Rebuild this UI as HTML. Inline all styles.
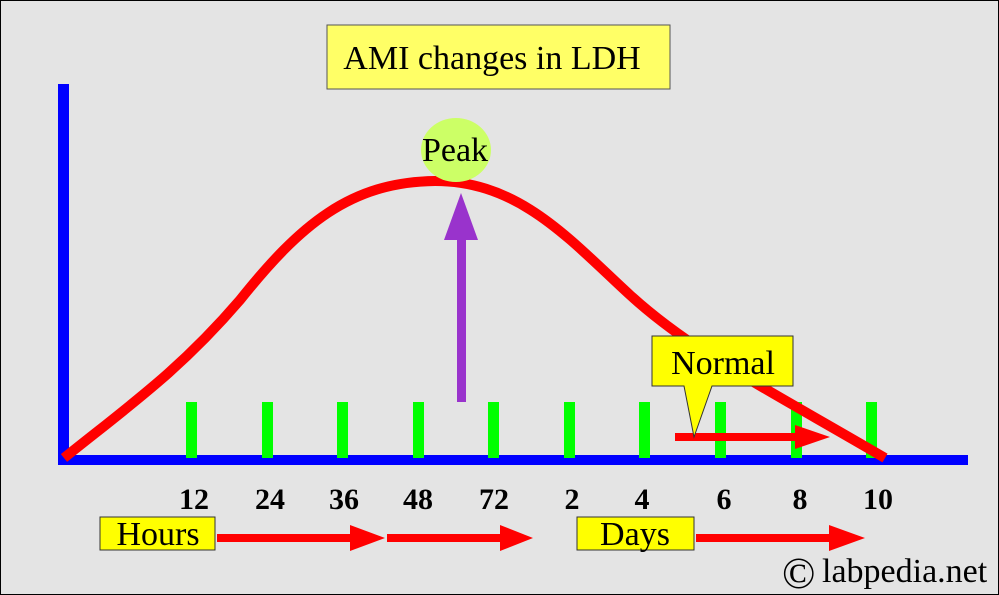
<!DOCTYPE html>
<html><head><style>
body{margin:0;}
svg{display:block;font-family:"Liberation Serif",serif;}
</style></head><body>
<svg width="999" height="595" viewBox="0 0 999 595">
<rect x="0.5" y="0.5" width="998" height="594" fill="#e4e4e4" stroke="#000"/>
<rect x="327" y="25" width="343" height="64" fill="#ffff66" stroke="#555"/>
<text x="492" y="69" font-size="34" text-anchor="middle">AMI changes in LDH</text>
<rect x="58" y="84" width="11" height="380" fill="#0000ff"/>
<rect x="58" y="455" width="910" height="10" fill="#0000ff"/>
<g fill="#00ff00">
<rect x="186" y="402" width="11" height="56"/><rect x="262" y="402" width="11" height="56"/>
<rect x="337" y="402" width="11" height="56"/><rect x="413" y="402" width="11" height="56"/>
<rect x="488" y="402" width="11" height="56"/><rect x="564" y="402" width="11" height="56"/>
<rect x="639" y="402" width="11" height="56"/><rect x="715" y="402" width="11" height="56"/>
<rect x="791" y="402" width="11" height="56"/><rect x="866" y="402" width="11" height="56"/>
</g>
<path d="M64,458 C130,405 180,370 240,300 C300,225 350,182 435,181 C520,181 570,240 630,295 C690,350 760,385 885,458" fill="none" stroke="#ff0000" stroke-width="10"/>
<ellipse cx="456" cy="150" rx="35" ry="32" fill="#ccff66"/>
<text x="455" y="161" font-size="34" text-anchor="middle">Peak</text>
<rect x="457" y="238" width="9" height="164" fill="#9933cc"/>
<polygon points="461,193 444,240 478,240" fill="#9933cc"/>
<rect x="675" y="433" width="125" height="8" fill="#ff0000"/>
<polygon points="795,425 830,437 795,449" fill="#ff0000"/>
<polygon points="652,336 793,336 793,386 712,386 694,437 684,386 652,386" fill="#ffff00" stroke="#333"/>
<text x="723" y="374" font-size="34" text-anchor="middle">Normal</text>
<g font-size="30" font-weight="bold" text-anchor="middle">
<text x="194" y="509">12</text><text x="270" y="509">24</text><text x="344" y="509">36</text>
<text x="418" y="509">48</text><text x="494" y="509">72</text><text x="572" y="509">2</text>
<text x="642" y="509">4</text><text x="724" y="509">6</text><text x="800" y="509">8</text>
<text x="878" y="509">10</text>
</g>
<rect x="100" y="517" width="115" height="33" fill="#ffff00" stroke="#333"/>
<text x="158" y="545" font-size="34" text-anchor="middle">Hours</text>
<rect x="577" y="517" width="117" height="33" fill="#ffff00" stroke="#333"/>
<text x="635" y="545" font-size="34" text-anchor="middle">Days</text>
<g fill="#ff0000">
<rect x="217" y="534" width="135" height="8"/><polygon points="350,525 385,538 350,551"/>
<rect x="387" y="534" width="115" height="8"/><polygon points="500,525 533,538 500,551"/>
<rect x="696" y="534" width="135" height="8"/><polygon points="829,525 865,538 829,551"/>
</g>
<text x="782" y="588" font-size="44">©</text>
<text x="822" y="582" font-size="34">labpedia.net</text>
</svg>
</body></html>
